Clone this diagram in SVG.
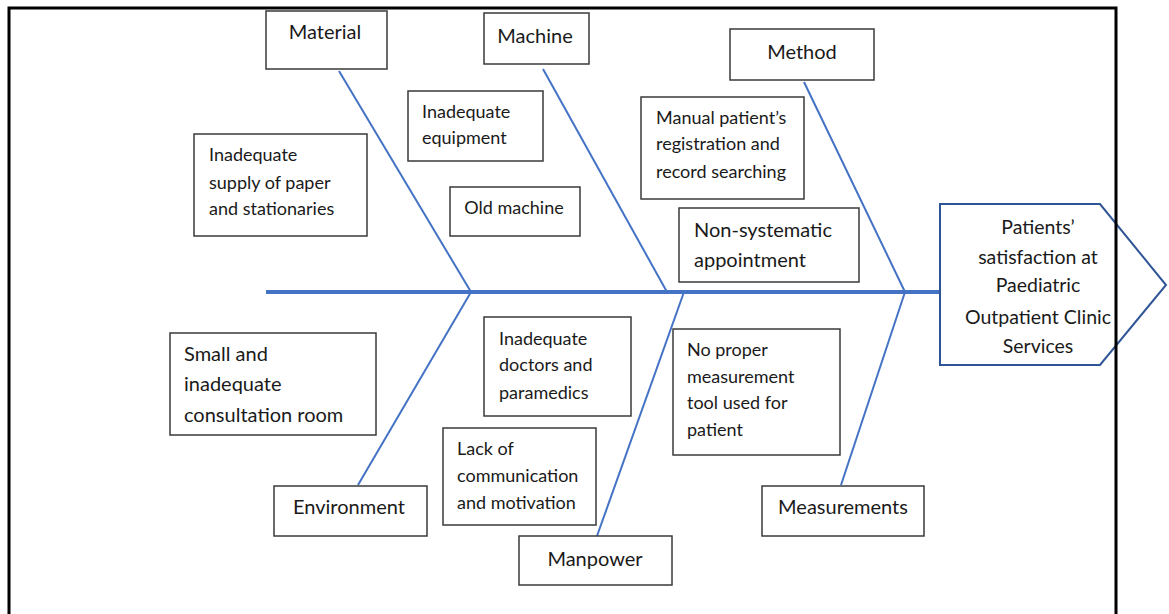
<svg xmlns="http://www.w3.org/2000/svg" width="1169" height="614" viewBox="0 0 1169 614">
<style>
.box{fill:#fff;stroke:#3a3a3a;stroke-width:1.5}
.t{font-family:Lato,"Open Sans","Liberation Sans",sans-serif;font-size:18px;fill:#1a1a1a}
.b{font-size:20px}
.h{font-size:19.5px}
.c{text-anchor:middle}
.bone{stroke:#4472C4;stroke-width:2;fill:none}
.spine{stroke:#4472C4;stroke-width:4;fill:none}
</style>
<rect width="1169" height="614" fill="#fff"/>
<g id="connectors">
<line class="spine" x1="266" y1="292" x2="940" y2="292"/>
<line class="bone" x1="339" y1="71" x2="471" y2="292"/>
<line class="bone" x1="543" y1="69" x2="667" y2="292"/>
<line class="bone" x1="804" y1="82" x2="905" y2="292"/>
<line class="bone" x1="358" y1="485" x2="471" y2="292"/>
<line class="bone" x1="597" y1="536" x2="684" y2="292"/>
<line class="bone" x1="841" y1="485" x2="905" y2="292"/>
</g>
<g id="head">
<polygon points="940,204 1100,204 1166,285 1100,365 940,365" fill="#fff" stroke="#2F5597" stroke-width="2"/>
<text class="t h c" x="1038" y="234">Patients’</text>
<text class="t h c" x="1038" y="264">satisfaction at</text>
<text class="t h c" x="1038" y="292">Paediatric</text>
<text class="t h c" x="1038" y="324">Outpatient Clinic</text>
<text class="t h c" x="1038" y="353">Services</text>
</g>
<path d="M9,614 V8 H1116 V614" fill="none" stroke="#000" stroke-width="3"/>
<g id="material"><rect class="box" x="266" y="11" width="121" height="58"/><text class="t b c" x="325" y="39">Material</text></g>
<g id="machine"><rect class="box" x="484" y="13" width="105" height="51"/><text class="t b c" x="535" y="43">Machine</text></g>
<g id="method"><rect class="box" x="730" y="29" width="144" height="51"/><text class="t b c" x="802" y="59">Method</text></g>
<g id="environment"><rect class="box" x="274" y="486" width="153" height="50"/><text class="t b c" x="349" y="514">Environment</text></g>
<g id="manpower"><rect class="box" x="519" y="536" width="153" height="49"/><text class="t b c" x="595" y="566">Manpower</text></g>
<g id="measurements"><rect class="box" x="762" y="486" width="162" height="50"/><text class="t b c" x="843" y="514">Measurements</text></g>
<g id="cause-supply"><rect class="box" x="194" y="134" width="173" height="102"/>
<text class="t" x="209" y="161">Inadequate</text><text class="t" x="209" y="189">supply of paper</text><text class="t" x="209" y="215">and stationaries</text></g>
<g id="cause-equipment"><rect class="box" x="408" y="91" width="135" height="70"/>
<text class="t" x="422" y="118">Inadequate</text><text class="t" x="422" y="144">equipment</text></g>
<g id="cause-oldmachine"><rect class="box" x="450" y="187" width="130" height="49"/>
<text class="t c" x="514" y="214">Old machine</text></g>
<g id="cause-manual"><rect class="box" x="641" y="97" width="163" height="102"/>
<text class="t" x="656" y="124">Manual patient’s</text><text class="t" x="656" y="150">registration and</text><text class="t" x="656" y="178">record searching</text></g>
<g id="cause-appointment"><rect class="box" x="679" y="208" width="180" height="74"/>
<text class="t b" x="694" y="237">Non-systematic</text><text class="t b" x="694" y="267">appointment</text></g>
<g id="cause-room"><rect class="box" x="170" y="333" width="206" height="102"/>
<text class="t b" x="184" y="361">Small  and</text><text class="t b" x="184" y="391">inadequate</text><text class="t b" x="184" y="422">consultation room</text></g>
<g id="cause-doctors"><rect class="box" x="484" y="317" width="147" height="99"/>
<text class="t" x="499" y="345">Inadequate</text><text class="t" x="499" y="371">doctors and</text><text class="t" x="499" y="399">paramedics</text></g>
<g id="cause-communication"><rect class="box" x="443" y="428" width="153" height="97"/>
<text class="t" x="457" y="455">Lack of</text><text class="t" x="457" y="482">communication</text><text class="t" x="457" y="509">and motivation</text></g>
<g id="cause-measurement"><rect class="box" x="673" y="329" width="167" height="126"/>
<text class="t" x="687" y="356">No proper</text><text class="t" x="687" y="383">measurement</text><text class="t" x="687" y="409">tool used for</text><text class="t" x="687" y="436">patient</text></g>
</svg>
